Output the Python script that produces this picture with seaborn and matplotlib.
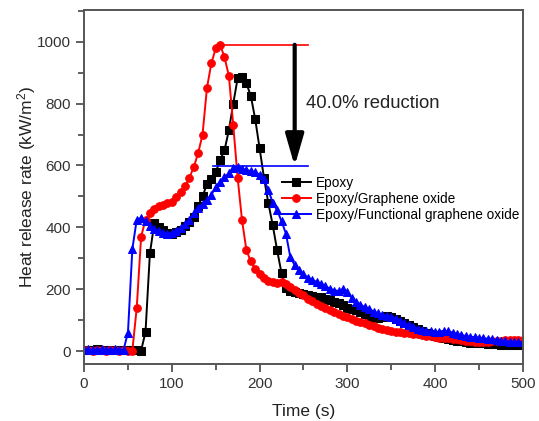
import numpy as np
import pandas as pd
import matplotlib
matplotlib.use("Agg")
import matplotlib.pyplot as plt
from matplotlib.ticker import MultipleLocator
import seaborn as sns

# time axis (s), one reading every 5 s
time_s = list(range(0, 505, 5))

epoxy = [4, 5, 3, 6, 4, 3, 5, 4, 3, 4, 3, 4, 3, 2, 62, 316, 413, 400, 390, 382,
         380, 384, 392, 405, 418, 435, 470, 500, 540, 555, 578, 617, 649, 714, 800, 882,
         885, 865, 825, 750, 656, 560, 478, 407, 326, 252, 205, 195, 190, 187, 184,
         180, 178, 176, 174, 170, 165, 160, 155, 148, 140, 136, 132, 125, 120, 113,
         108, 107, 110, 114, 112, 105, 98, 90, 84, 78, 72, 66, 60, 55, 50, 46, 43,
         40, 37, 34, 32, 30, 28, 27, 26, 25, 24, 23, 22, 21, 21, 20, 20, 19, 19]

epoxy_go = [3, 4, 2, 5, 3, 2, 4, 3, 2, 3, 2, 2, 140, 370, 425, 445, 460, 468, 472, 478,
            482, 498, 514, 535, 560, 595, 640, 700, 850, 930, 978, 990, 950, 890, 730, 560,
            423, 326, 290, 265, 248, 236, 228, 222, 220, 222, 216, 207, 198, 188, 180,
            170, 162, 153, 145, 138, 132, 126, 120, 114, 110, 104, 99, 94, 90, 86, 80,
            75, 72, 69, 66, 63, 61, 59, 58, 56, 54, 52, 50, 48, 46, 44, 43, 42, 40, 38,
            36, 34, 32, 31, 30, 30, 31, 32, 33, 34, 35, 35, 36, 35, 35]

epoxy_fgo = [5, 6, 4, 5, 6, 4, 5, 6, 4, 5, 60, 330, 425, 430, 420, 405, 395, 388, 383, 380,
             382, 388, 398, 410, 425, 445, 462, 475, 488, 505, 530, 548, 562, 575, 592, 595,
             590, 585, 582, 578, 570, 555, 520, 480, 455, 420, 380, 304, 278, 262, 248,
             238, 230, 224, 218, 210, 202, 196, 195, 200, 190, 172, 158, 150, 142, 136,
             128, 122, 118, 115, 112, 105, 98, 90, 84, 78, 72, 68, 66, 64, 62, 63, 66,
             64, 60, 56, 52, 49, 47, 45, 44, 42, 40, 38, 36, 34, 32, 31, 30, 30, 29]

series_names = ["Epoxy", "Epoxy/Graphene oxide", "Epoxy/Functional graphene oxide"]
peak_go = 990
peak_fgo = 598

plt.rcParams['font.family'] = ['Liberation Sans', 'DejaVu Sans']
plt.rcParams['mathtext.fontset'] = 'custom'
plt.rcParams['mathtext.rm'] = 'Liberation Sans'
plt.rcParams['mathtext.it'] = 'Liberation Sans:italic'

fig, ax = plt.subplots(figsize=(5.39, 4.21), dpi=100)
fig.subplots_adjust(left=0.156, right=0.970, top=0.976, bottom=0.135)

styles = [('#000000', 's'), ('#ff0000', 'o'), ('#0000ff', '^')]
for name, vals, (c, m) in zip(series_names, [epoxy, epoxy_go, epoxy_fgo], styles):
    df = pd.DataFrame({'t': time_s, 'v': vals})
    sns.lineplot(data=df, x='t', y='v', ax=ax, color=c, marker=m, markersize=5.5,
                 markeredgecolor=c, linewidth=1.4, label=name)

# peak reference lines + arrow
ax.plot([155, 255], [peak_go, peak_go], color='#ff0000', lw=1.2)
ax.plot([147, 255], [peak_fgo, peak_fgo], color='#0000ff', lw=1.2)
ax.annotate('', xy=(240, peak_fgo), xytext=(240, peak_go),
            arrowprops=dict(arrowstyle='-|>,head_length=1.9,head_width=0.55',
                            mutation_scale=10, lw=3, color='k',
                            shrinkA=0, shrinkB=0))
ax.text(253, 800, '40.0% reduction', fontsize=13.3, va='center', color='#222222')

ax.set_xlim(0, 500)
ax.set_ylim(-42, 1102)
ax.xaxis.set_major_locator(MultipleLocator(100))
ax.xaxis.set_minor_locator(MultipleLocator(50))
ax.yaxis.set_major_locator(MultipleLocator(200))
ax.yaxis.set_minor_locator(MultipleLocator(100))
ax.tick_params(which='major', direction='out', length=6, width=1.2, labelsize=11,
               colors='#444444', labelcolor='#333333')
ax.tick_params(which='minor', direction='out', length=4, width=1.2, colors='#444444')
for sp in ax.spines.values():
    sp.set_color('#555555')
    sp.set_linewidth(1.4)

ax.set_xlabel('Time (s)', fontsize=12.5, color='#222222', labelpad=9)
ax.set_ylabel('Heat release rate (kW/m$^2$)', fontsize=12.5, color='#222222', labelpad=-1)

ax.legend(loc='upper left', bbox_to_anchor=(0.45, 0.531), frameon=False,
          fontsize=9.8, handlelength=2.2, handletextpad=0.3, labelspacing=0.15,
          borderpad=0, borderaxespad=0)

fig.savefig('out.png', dpi=100)
